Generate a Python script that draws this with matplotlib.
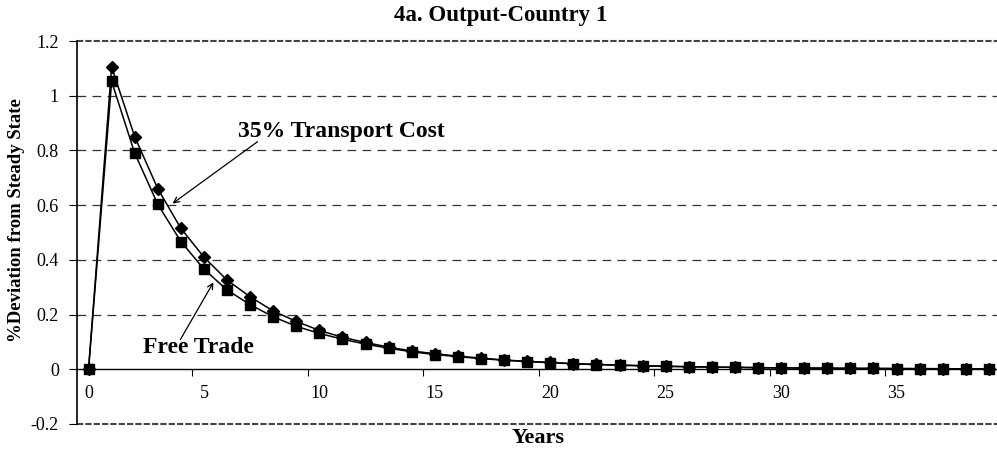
import numpy as np
import matplotlib
matplotlib.use("Agg")
import matplotlib.pyplot as plt
from matplotlib.ticker import FixedLocator, FuncFormatter

plt.rcParams['font.family'] = ['Liberation Serif', 'DejaVu Serif']

# data (years 0..39)
years = list(range(40))
transport_cost = [0, 1.105, 0.85, 0.66, 0.515, 0.41, 0.326, 0.265, 0.213, 0.175,
                  0.142, 0.117, 0.098, 0.081, 0.067, 0.057, 0.048, 0.041, 0.034, 0.029,
                  0.025, 0.021, 0.018, 0.015, 0.013, 0.011, 0.0095, 0.008, 0.007, 0.006,
                  0.0052, 0.0045, 0.004, 0.0035, 0.003, 0.0026, 0.0023, 0.002, 0.0018, 0.0016]
free_trade = [0, 1.052, 0.79, 0.603, 0.467, 0.366, 0.29, 0.236, 0.192, 0.157,
              0.131, 0.11, 0.092, 0.077, 0.064, 0.054, 0.046, 0.039, 0.033, 0.028,
              0.024, 0.02, 0.017, 0.015, 0.013, 0.011, 0.0093, 0.008, 0.007, 0.006,
              0.0051, 0.0044, 0.0039, 0.0034, 0.003, 0.0026, 0.0023, 0.002, 0.0018, 0.0016]
label_years = [0, 5, 10, 15, 20, 25, 30, 35]
y_ticks = [-0.2, 0, 0.2, 0.4, 0.6, 0.8, 1.0, 1.2]

fig = plt.figure(figsize=(9.97, 4.54), dpi=100)
ax = fig.add_axes([77 / 997, 1 - 424 / 454, 1 - 77 / 997, (424 - 41) / 454])
ax.set_xlim(-0.5, 39.35)
ax.set_ylim(-0.2, 1.2)

# gridlines / frame lines
for y in [0.2, 0.4, 0.6, 0.8, 1.0]:
    ax.axhline(y, color='#333333', lw=0.9, dashes=(7, 5), zorder=1)
for y in [-0.2, 1.2]:
    ax.axhline(y, color='#444444', lw=1.5, dashes=(3, 1), zorder=1, clip_on=False)

ax.plot(years, transport_cost, color='black', lw=1.1, marker='D', ms=5.8,
        mfc='black', mec='black', zorder=3, clip_on=False)
ax.plot(years, free_trade, color='black', lw=1.1, marker='s', ms=6.5,
        mfc='black', mec='black', zorder=3, clip_on=False)

# axes styling (Excel look)
for s in ['top', 'right']:
    ax.spines[s].set_visible(False)
ax.spines['bottom'].set_position(('data', 0))
ax.spines['left'].set_linewidth(1.2)
ax.spines['bottom'].set_linewidth(1.0)

ax.xaxis.set_major_locator(FixedLocator([4.5, 9.5, 14.5, 19.5, 24.5, 29.5, 34.5]))
ax.xaxis.set_major_formatter(FuncFormatter(lambda v, p: ''))
ax.xaxis.set_minor_locator(FixedLocator(label_years))
ax.xaxis.set_minor_formatter(FuncFormatter(lambda v, p: f'{int(round(v))}'))
ax.tick_params(axis='x', which='major', direction='out', length=5, width=0.8)
ax.tick_params(axis='x', which='minor', length=0, pad=11, labelsize=13)

ax.yaxis.set_major_locator(FixedLocator(y_ticks))
ax.yaxis.set_major_formatter(FuncFormatter(lambda v, p: f'{v:g}'))
ax.tick_params(axis='y', direction='out', length=6, width=0.8, pad=7, labelsize=13)

fig.text(501 / 997, 1 - 15 / 454, '4a. Output-Country 1', ha='center',
         va='center', fontsize=16.5, fontweight='bold')
fig.text(538 / 997, 1 - 438 / 454, 'Years', ha='center', va='center',
         fontsize=16, fontweight='bold')
fig.text(17 / 997, 1 - 220 / 454, '%Deviation from Steady State', rotation=90,
         ha='center', va='center', fontsize=13.5, fontweight='bold')

ax.text(10.95, 0.869, '35% Transport Cost', ha='center', va='center',
        fontsize=17, fontweight='bold')
ax.annotate('', xy=(3.64, 0.606), xytext=(7.32, 0.832),
            arrowprops=dict(arrowstyle='->', color='black', lw=0.9,
                            shrinkA=0, shrinkB=0))
ax.text(4.74, 0.08, 'Free Trade', ha='center', va='center',
        fontsize=17, fontweight='bold')
ax.annotate('', xy=(5.41, 0.318), xytext=(3.98, 0.109),
            arrowprops=dict(arrowstyle='->', color='black', lw=0.9,
                            shrinkA=0, shrinkB=0))

fig.savefig('out.png', dpi=100)
